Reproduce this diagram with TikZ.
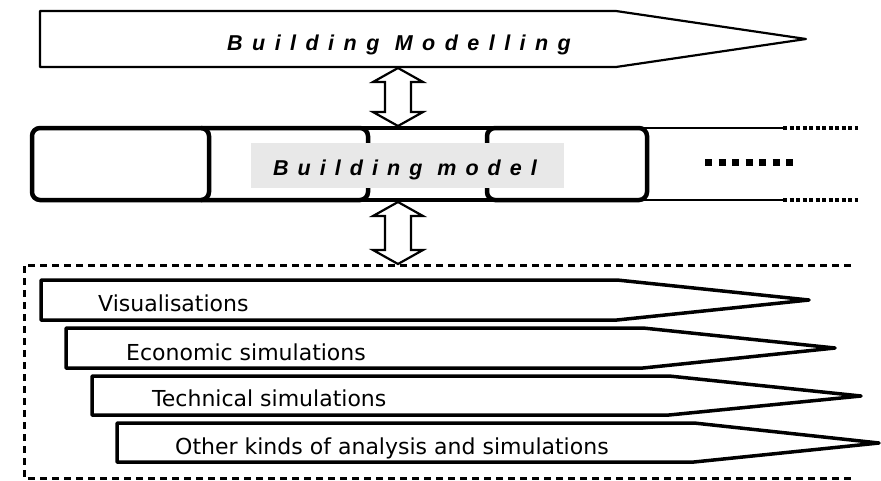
\documentclass[tikz,border=0pt]{standalone}
\usepackage{fontspec}
\usetikzlibrary{calc}
\newfontfamily\titlefont[LetterSpace=44]{Liberation Sans}
\newfontfamily\modelfont[LetterSpace=42]{Liberation Sans}
\newfontfamily\labelfont{DejaVu Sans}
\definecolor{lightgraybox}{RGB}{232,232,232}
\begin{document}
\begin{tikzpicture}[x=1pt,y=-1pt,
  pent/.style={draw=black,line width=#1,line join=round,fill=white},
  barline/.style={draw=black,line width=4.5pt,rounded corners=8pt},
  dbl/.style={draw=black,line width=2.2pt,fill=white,line join=miter},
  dashbox/.style={draw=black,line width=3pt,dash pattern=on 7pt off 5pt},
  lbl/.style={font=\labelfont\fontsize{22}{26}\selectfont,inner sep=0pt,anchor=base west},
  ttl/.style={font=\titlefont\bfseries\itshape\fontsize{21.5}{25}\selectfont,inner sep=0pt,anchor=base west},
  mdl/.style={font=\modelfont\bfseries\itshape\fontsize{21.5}{25}\selectfont,inner sep=0pt,anchor=base west}]
\useasboundingbox (0,0) rectangle (881,480);

% top arrow: Building Modelling
\draw[pent=2.2pt] (40,11) -- (616,11) -- (806,39) -- (616,67) -- (40,67) -- cycle;
\node[ttl] (modelling) at (227,50) {Building Modelling};

% building model bar
\draw[barline] (32,128) rectangle (209,200);
\draw[barline] (201,128) -- (368,128) -- (368,200) -- (201,200);
\draw[line width=4.5pt] (360,128) -- (495,128) (360,200) -- (495,200);
\draw[barline] (487,128) rectangle (647,200);
\draw[line width=2.8pt] (639,128) -- (783,128) (639,200) -- (783,200);
\draw[line width=3.2pt,dash pattern=on 4pt off 2.5pt] (783,128) -- (858,128) (783,200) -- (858,200);
\draw[line width=7pt,dash pattern=on 7pt off 6.5pt] (705,162) -- (796,162);
\node[fill=lightgraybox,minimum width=313pt,minimum height=45pt,inner sep=0pt] (bmbox) at (407.5,165.5) {};
\node[mdl] (model) at (273,175) {Building model};

% dashed container
\draw[dashbox] (851,265) -- (24,265) -- (24,478) -- (851,478);

% lower arrows
\draw[pent=3.5pt] (41,280) -- (617,280) -- (809,300) -- (617,320) -- (41,320) -- cycle;
\draw[pent=3.5pt] (66,328) -- (643,328) -- (835,348) -- (643,368) -- (66,368) -- cycle;
\draw[pent=3.5pt] (92,376) -- (669,376) -- (861,396) -- (669,415) -- (92,415) -- cycle;
\draw[pent=3.5pt] (117,423) -- (694,423) -- (879,443) -- (694,462) -- (117,462) -- cycle;
\node[lbl] (vis) at (98,311) {Visualisations};
\node[lbl] (eco) at (126,360) {Economic simulations};
\node[lbl] (tec) at (152,406) {Technical simulations};
\node[lbl] (oth) at (175,454) {Other kinds of analysis and simulations};

% double arrows
\coordinate (mbot) at (398,68);
\coordinate (bartop) at (398,126);
\coordinate (barbot) at (398,202);
\coordinate (boxtop) at (398,264);
\foreach \a/\b in {mbot/bartop,barbot/boxtop}{
  \draw[dbl] (\a) -- ($(\a)+(25,14)$) -- ($(\a)+(13,14)$) -- ($(\b)+(13,-14)$) -- ($(\b)+(25,-14)$) -- (\b)
    -- ($(\b)+(-25,-14)$) -- ($(\b)+(-13,-14)$) -- ($(\a)+(-13,14)$) -- ($(\a)+(-25,14)$) -- cycle;
}
\end{tikzpicture}
\end{document}
